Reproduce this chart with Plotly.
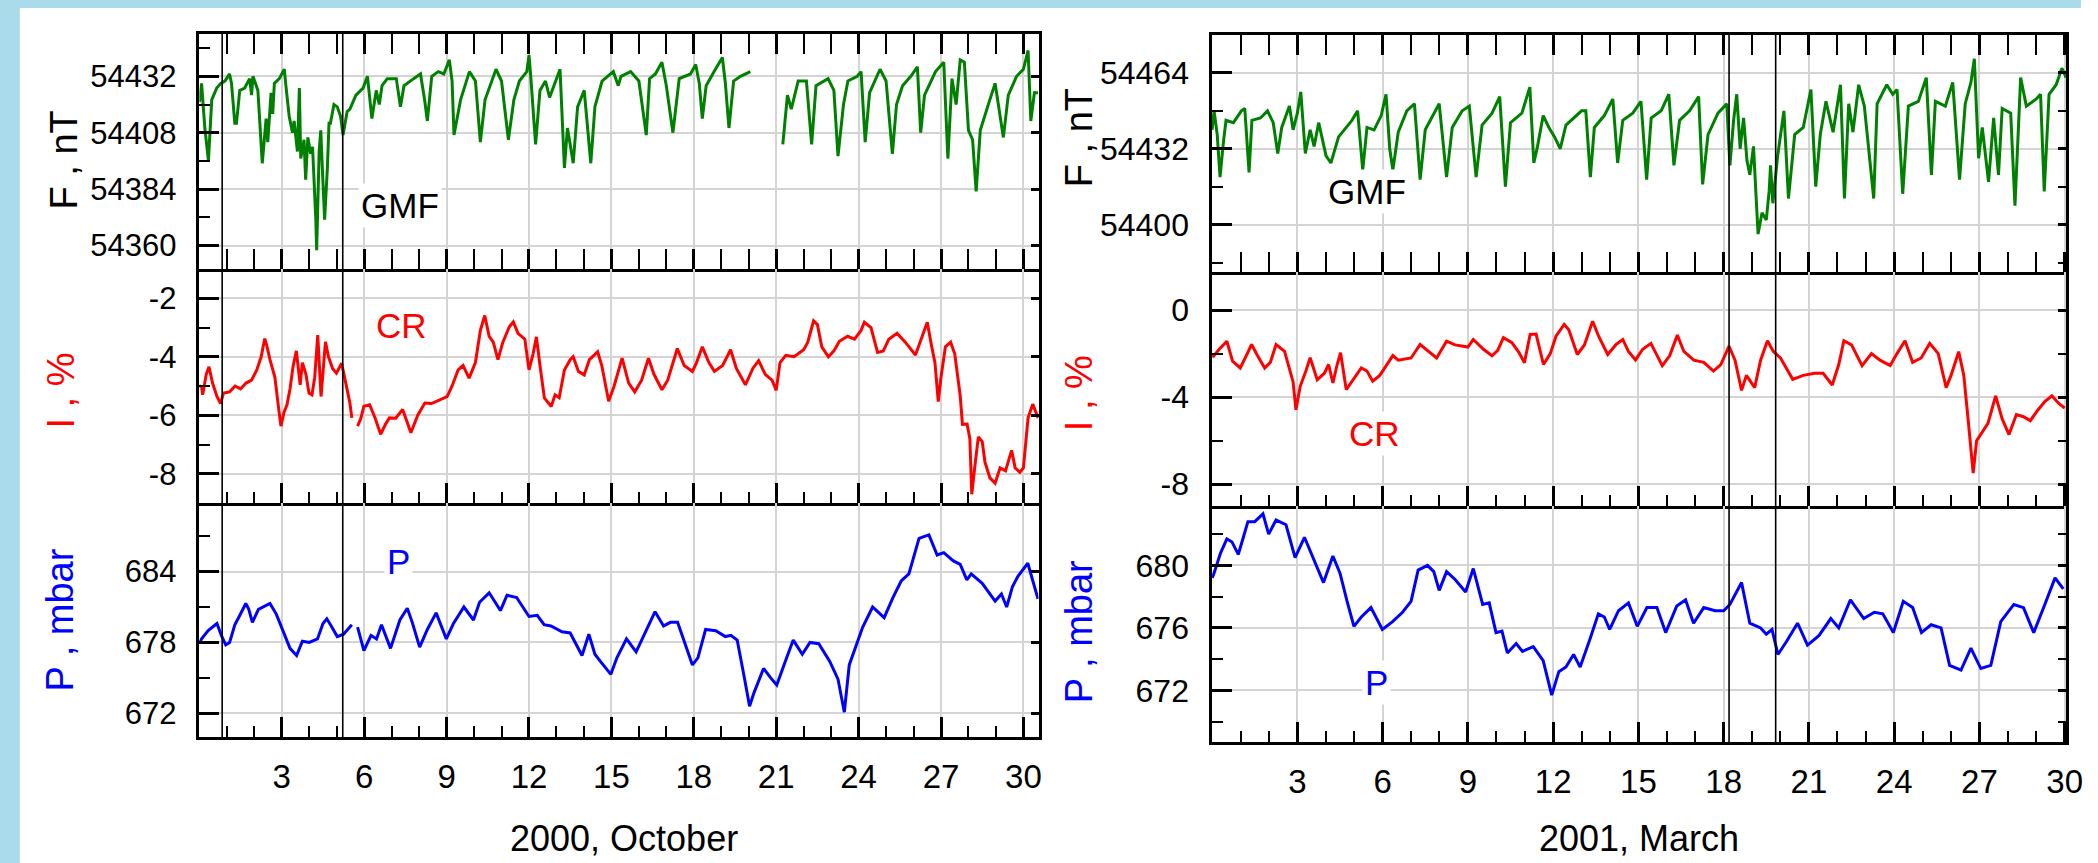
import plotly.graph_objects as go

# ---------------- DATA ----------------
# Day of month (fractional) and values. None marks a data gap.
oct_gmf_day = [0.00, 0.08, 0.20, 0.33, 0.45, 0.63, 0.78, 0.93, 1.10, 1.17, 1.29, 1.35, 1.47, 1.65, 1.83, 1.90, 1.95,
               2.13, 2.29, 2.43, 2.49, 2.61, 2.67, 2.73, 2.91, 3.09, 3.15, 3.27, 3.39, 3.45, 3.57, 3.64, 3.69, 3.81,
               3.87, 3.95, 4.05, 4.12, 4.24, 4.27, 4.36, 4.42, 4.48, 4.56, 4.66, 4.72, 4.77, 4.90, 5.02, 5.14, 5.23,
               5.38, 5.48, 5.70, 5.96, 6.12, 6.28, 6.44, 6.55, 6.65, 6.84, 7.00, 7.17, 7.32, 7.45, 7.80, 8.05, 8.20,
               8.30, 8.46, 8.70, 8.90, 9.10, 9.20, 9.27, 9.51, 9.83, 10.05, 10.23, 10.40, 10.80, 11.00, 11.25, 11.45,
               11.65, 11.92, 12.00, 12.07, 12.24, 12.40, 12.60, 12.75, 13.13, 13.29, 13.40, 13.50, 13.61, 13.77,
               14.01, 14.25, 14.40, 14.66, 15.07, 15.25, 15.35, 15.70, 16.00, 16.27, 16.39, 16.60, 16.84, 17.00,
               17.24, 17.47, 17.88, 18.07, 18.20, 18.31, 18.45, 18.74, 19.04, 19.15, 19.28, 19.45, 19.70, 20.06,
               None,
               21.24, 21.41, 21.55, 21.80, 22.10, 22.29, 22.45, 22.89, 23.10, 23.25, 23.45, 23.61, 23.95, 24.09,
               24.24, 24.40, 24.78, 25.00, 25.23, 25.38, 25.60, 25.90, 26.14, 26.26, 26.40, 26.80, 27.10, 27.25,
               27.40, 27.55, 27.70, 27.85, 28.00, 28.15, 28.28, 28.43, 28.75, 28.97, 29.27, 29.45, 29.75, 30.00,
               30.17, 30.27, 30.40, 30.53]
oct_gmf_nT = [54421, 54429, 54410, 54396, 54422, 54427, 54429, 54430, 54433, 54429, 54412, 54412, 54426, 54427, 54431,
              54424, 54432, 54426, 54395, 54414, 54404, 54425, 54416, 54429, 54431, 54435, 54428, 54415, 54408, 54413,
              54400, 54427, 54397, 54405, 54388, 54406, 54399, 54402, 54371, 54358, 54400, 54409, 54392, 54371, 54393,
              54412, 54412, 54420, 54419, 54415, 54407, 54417, 54418, 54424, 54427, 54432, 54414, 54426, 54420, 54428,
              54431, 54431, 54431, 54419, 54428, 54431, 54433, 54422, 54413, 54432, 54434, 54433, 54439, 54430, 54407,
              54422, 54434, 54430, 54404, 54422, 54435, 54430, 54405, 54422, 54430, 54434, 54441, 54431, 54403, 54426,
              54430, 54423, 54435, 54393, 54410, 54403, 54395, 54419, 54426, 54395, 54419, 54430, 54434, 54428, 54432,
              54434, 54430, 54407, 54431, 54433, 54438, 54428, 54408, 54431, 54433, 54437, 54429, 54414, 54428, 54434,
              54440, 54429, 54410, 54430, 54432, 54434,
              None,
              54403, 54424, 54418, 54430, 54430, 54403, 54428, 54431, 54426, 54398, 54420, 54430, 54432, 54434, 54404,
              54425, 54435, 54430, 54399, 54420, 54428, 54432, 54436, 54408, 54424, 54434, 54438, 54397, 54431, 54420,
              54439, 54438, 54409, 54405, 54383, 54409, 54421, 54429, 54406, 54424, 54432, 54435, 54443, 54413, 54425,
              54425]

oct_cr_day = [0.00, 0.08, 0.12, 0.25, 0.35, 0.48, 0.64, 0.77, 0.88, 1.10, 1.30, 1.50, 1.70, 1.90, 2.09, 2.25, 2.38,
              2.45, 2.57, 2.75, 2.89, 2.97, 3.08, 3.19, 3.30, 3.41, 3.53, 3.67, 3.75, 3.88, 3.99, 4.10, 4.20, 4.31,
              4.43, 4.59, 4.70, 4.85, 4.99, 5.18, 5.33, 5.48, 5.55,
              None,
              5.76, 5.88, 5.99, 6.20, 6.40, 6.60, 6.78, 6.92, 7.15, 7.40, 7.55, 7.70, 7.95, 8.21, 8.45, 8.70, 9.02,
              9.20, 9.42, 9.60, 9.82, 10.05, 10.23, 10.39, 10.55, 10.70, 10.87, 11.05, 11.28, 11.43, 11.60, 11.85,
              12.00, 12.15, 12.27, 12.40, 12.56, 12.81, 12.95, 13.10, 13.29, 13.50, 13.61, 13.80, 14.01, 14.20, 14.50,
              14.65, 14.90, 15.10, 15.39, 15.63, 15.85, 16.10, 16.35, 16.55, 16.84, 17.05, 17.40, 17.65, 17.95, 18.10,
              18.31, 18.55, 18.75, 19.05, 19.34, 19.55, 19.88, 20.15, 20.36, 20.60, 20.85, 21.00, 21.14, 21.35, 21.65,
              22.00, 22.15, 22.36, 22.50, 22.66, 22.90, 23.10, 23.30, 23.60, 23.85, 24.09, 24.21, 24.45, 24.69, 24.90,
              25.10, 25.40, 25.70, 26.07, 26.25, 26.50, 26.65, 26.78, 26.90, 27.00, 27.16, 27.35, 27.50, 27.70, 27.78,
              27.95, 28.05, 28.12, 28.25, 28.36, 28.50, 28.60, 28.78, 28.97, 29.15, 29.35, 29.57, 29.70, 29.87, 30.00,
              30.17, 30.34, 30.53]
oct_cr_pct = [-5.0, -5.02, -5.3, -4.6, -4.34, -4.9, -5.36, -5.6, -5.24, -5.2, -5.0, -5.1, -4.9, -4.8, -4.45, -4.0,
              -3.38, -3.6, -4.1, -4.7, -5.8, -6.37, -5.9, -5.64, -5.1, -4.34, -3.8, -4.96, -4.2, -4.6, -5.24, -5.3,
              -4.7, -3.26, -5.36, -3.49, -4.0, -4.4, -4.56, -4.22, -4.9, -5.58, -6.09,
              None,
              -6.37, -6.1, -5.69, -5.64, -6.1, -6.65, -6.3, -6.09, -6.1, -5.8, -6.2, -6.6, -6.0, -5.58, -5.6, -5.5,
              -5.36, -5.0, -4.45, -4.3, -4.73, -4.2, -3.1, -2.59, -3.3, -3.5, -4.1, -3.5, -2.98, -2.81, -3.2, -3.4,
              -4.45, -3.9, -3.32, -4.3, -5.41, -5.7, -5.3, -5.4, -4.45, -4.1, -4.0, -4.5, -4.62, -4.1, -3.83, -4.3,
              -5.52, -5.0, -4.05, -4.9, -5.2, -4.8, -4.05, -4.6, -5.13, -4.8, -3.72, -4.3, -4.5, -4.2, -3.66, -4.2,
              -4.5, -4.3, -3.76, -4.4, -4.96, -4.4, -4.13, -4.6, -4.8, -5.15, -4.2, -3.95, -4.0, -3.76, -3.5, -2.77,
              -2.9, -3.66, -4.0, -3.8, -3.47, -3.3, -3.4, -3.1, -2.82, -3.0, -3.85, -3.8, -3.4, -3.2, -3.5, -3.94,
              -3.5, -2.82, -3.6, -4.2, -5.53, -4.7, -3.66, -3.5, -3.9, -5.34, -6.31, -6.3, -6.8, -8.7, -7.6, -6.74,
              -6.9, -7.6, -8.14, -8.32, -7.8, -7.9, -7.2, -7.8, -7.95, -7.8, -6.09, -5.62, -6.09]

oct_p_day = [0.00, 0.08, 0.32, 0.64, 0.80, 0.96, 1.10, 1.29, 1.45, 1.69, 1.80, 1.93, 2.15, 2.57, 2.80, 3.06, 3.30,
             3.54, 3.75, 4.00, 4.30, 4.50, 4.64, 4.80, 5.02, 5.25, 5.55,
             None,
             5.76, 5.99, 6.25, 6.45, 6.63, 6.96, 7.30, 7.57, 7.75, 8.02, 8.30, 8.62, 8.99, 9.25, 9.63, 9.98, 10.20,
             10.55, 10.96, 11.20, 11.55, 12.00, 12.30, 12.55, 12.80, 13.20, 13.50, 13.70, 13.93, 14.18, 14.40, 14.60,
             14.98, 15.20, 15.55, 15.90, 16.25, 16.59, 16.90, 17.15, 17.41, 17.69, 17.95, 18.15, 18.43, 18.80, 19.15,
             19.35, 19.58, 19.85, 20.03, 20.20, 20.54, 20.80, 21.02, 21.30, 21.62, 21.95, 22.23, 22.55, 22.95, 23.25,
             23.48, 23.66, 23.90, 24.15, 24.51, 24.93, 25.25, 25.55, 25.83, 26.05, 26.20, 26.56, 26.86, 27.10, 27.45,
             27.70, 27.94, 28.10, 28.50, 28.97, 29.20, 29.39, 29.60, 29.80, 30.16, 30.53]
oct_p_mbar = [678.0, 678.3, 679.0, 679.6, 678.6, 677.8, 678.0, 679.5, 680.2, 681.3, 680.8, 679.7, 680.8, 681.3, 680.4,
              678.9, 677.5, 676.9, 678.1, 678.0, 678.3, 679.6, 680.0, 679.4, 678.5, 678.7, 679.5,
              None,
              679.3, 677.3, 678.6, 678.3, 679.5, 677.5, 679.9, 680.9, 679.7, 677.6, 679.1, 680.5, 678.3, 679.6,
              681.0, 679.9, 681.4, 682.2, 680.7, 682.0, 681.8, 680.2, 680.3, 679.5, 679.4, 678.9, 678.8, 677.9,
              676.9, 678.7, 677.0, 676.4, 675.3, 676.7, 678.3, 677.2, 679.0, 680.6, 679.4, 679.7, 679.7, 677.8,
              676.1, 676.7, 679.1, 679.0, 678.5, 678.6, 678.2, 674.9, 672.6, 673.8, 675.8, 675.0, 674.4, 676.2,
              678.2, 677.0, 678.0, 677.9, 676.4, 674.9, 672.1, 676.1, 677.6, 679.3, 681.0, 680.1, 681.8, 683.2,
              683.8, 685.5, 686.8, 687.1, 685.4, 685.6, 684.9, 684.6, 683.3, 683.8, 683.0, 681.5, 682.1, 681.0,
              682.7, 683.6, 684.7, 681.7]

mar_gmf_day = [0.00, 0.07, 0.18, 0.28, 0.40, 0.49, 0.75, 1.03, 1.15, 1.30, 1.40, 1.70, 1.95, 2.15, 2.31, 2.45, 2.72,
               2.85, 3.00, 3.12, 3.28, 3.45, 3.59, 3.75, 4.01, 4.18, 4.45, 4.70, 4.92, 5.12, 5.30, 5.45, 5.70, 5.95,
               6.12, 6.25, 6.36, 6.55, 6.85, 7.12, 7.32, 7.50, 7.80, 7.99, 8.25, 8.45, 8.80, 9.05, 9.29, 9.50, 9.85,
               10.12, 10.32, 10.50, 10.90, 11.18, 11.32, 11.45, 11.65, 11.85, 12.05, 12.25, 12.45, 12.80, 13.00,
               13.15, 13.31, 13.45, 13.80, 14.10, 14.27, 14.45, 14.80, 15.09, 15.29, 15.45, 15.80, 16.07, 16.25,
               16.45, 16.80, 17.12, 17.26, 17.45, 17.80, 18.11, 18.22, 18.35, 18.46, 18.58, 18.70, 18.82, 18.92,
               19.05, 19.21, 19.35, 19.50, 19.60, 19.65, 19.73, 19.90, 20.12, 20.28, 20.50, 20.80, 21.07, 21.24,
               21.40, 21.60, 21.85, 22.11, 22.25, 22.40, 22.55, 22.75, 22.95, 23.28, 23.40, 23.74, 23.95, 24.10,
               24.30, 24.50, 24.85, 25.13, 25.31, 25.45, 25.80, 26.06, 26.30, 26.50, 26.70, 26.82, 26.97, 27.10,
               27.32, 27.50, 27.67, 27.80, 28.10, 28.25, 28.45, 28.65, 29.00, 29.15, 29.28, 29.45, 29.70, 29.90,
               30.05]
mar_gmf_nT = [54440, 54448, 54438, 54420, 54435, 54444, 54443, 54448, 54449, 54422, 54444, 54445, 54448, 54443, 54430,
              54441, 54450, 54440, 54447, 54456, 54430, 54440, 54433, 54443, 54429, 54426, 54437, 54441, 54444, 54448,
              54423, 54441, 54440, 54446, 54455, 54432, 54423, 54439, 54448, 54451, 54419, 54440, 54447, 54451, 54420,
              54441, 54448, 54450, 54420, 54442, 54447, 54454, 54416, 54443, 54447, 54458, 54426, 54433, 54446, 54441,
              54437, 54432, 54442, 54446, 54448, 54448, 54420, 54441, 54446, 54453, 54426, 54444, 54447, 54452, 54419,
              54445, 54448, 54455, 54425, 54444, 54448, 54454, 54417, 54438, 54447, 54451, 54425, 54444, 54455, 54432,
              54445, 54427, 54421, 54433, 54396, 54405, 54402, 54414, 54425, 54409, 54429, 54448, 54411, 54438, 54441,
              54457, 54416, 54438, 54452, 54439, 54459, 54411, 54451, 54439, 54459, 54450, 54411, 54451, 54459, 54455,
              54457, 54413, 54450, 54452, 54462, 54421, 54452, 54450, 54460, 54419, 54451, 54460, 54470, 54428, 54441,
              54418, 54445, 54421, 54449, 54447, 54408, 54462, 54450, 54453, 54455, 54414, 54455, 54459, 54466, 54462]

mar_cr_day = [0.00, 0.05, 0.25, 0.52, 0.72, 0.99, 1.20, 1.39, 1.60, 1.85, 2.05, 2.25, 2.55, 2.70, 2.85, 2.95, 3.10,
              3.30, 3.45, 3.70, 3.95, 4.10, 4.25, 4.40, 4.52, 4.72, 4.95, 5.25, 5.45, 5.65, 5.90, 6.12, 6.36, 6.55,
              7.00, 7.32, 7.60, 7.90, 8.25, 8.55, 9.00, 9.19, 9.55, 9.85, 10.05, 10.25, 10.55, 10.80, 10.99, 11.19,
              11.40, 11.66, 11.90, 12.10, 12.39, 12.55, 12.85, 13.10, 13.39, 13.60, 13.92, 14.20, 14.45, 14.65,
              14.90, 15.15, 15.44, 15.84, 16.10, 16.37, 16.60, 16.95, 17.30, 17.64, 17.90, 18.19, 18.40, 18.63,
              18.80, 19.09, 19.30, 19.54, 19.75, 20.00, 20.43, 20.80, 21.20, 21.50, 21.82, 22.05, 22.23, 22.50,
              22.87, 23.20, 23.50, 23.86, 24.10, 24.38, 24.65, 24.95, 25.25, 25.55, 25.83, 26.00, 26.27, 26.45,
              26.60, 26.78, 26.90, 27.10, 27.30, 27.57, 27.80, 28.04, 28.30, 28.55, 28.79, 29.05, 29.30, 29.55,
              29.80, 30.00]
mar_cr_pct = [-2.1, -2.12, -1.8, -1.43, -2.35, -2.66, -2.1, -1.58, -2.1, -2.66, -2.4, -1.58, -1.9, -2.6, -3.3, -4.58,
              -3.5, -2.8, -2.19, -3.2, -2.9, -2.5, -3.35, -2.5, -1.96, -3.65, -3.2, -2.66, -2.8, -3.27, -3.0, -2.58,
              -2.09, -2.3, -2.2, -1.58, -1.9, -2.2, -1.43, -1.6, -1.7, -1.35, -1.8, -2.1, -1.85, -1.27, -1.5, -1.95,
              -2.42, -1.12, -1.1, -2.5, -2.0, -1.2, -0.66, -0.9, -2.04, -1.6, -0.51, -1.2, -2.04, -1.6, -1.35, -1.9,
              -2.29, -1.8, -1.53, -2.55, -2.1, -1.15, -1.9, -2.3, -2.4, -2.8, -2.5, -1.66, -2.3, -3.69, -3.0, -3.56,
              -2.3, -1.41, -1.9, -2.2, -3.18, -3.0, -2.9, -2.9, -3.44, -2.5, -1.41, -1.6, -2.55, -2.0, -2.3, -2.55,
              -2.0, -1.41, -2.4, -2.2, -1.53, -2.0, -3.56, -3.0, -1.91, -3.0, -5.0, -7.49, -6.0, -5.6, -5.2, -3.94,
              -5.0, -5.72, -4.8, -4.9, -5.08, -4.6, -4.2, -3.94, -4.3, -4.5]

mar_p_day = [0.00, 0.05, 0.30, 0.52, 0.70, 0.92, 1.10, 1.26, 1.50, 1.79, 1.99, 2.25, 2.60, 2.92, 3.25, 3.55, 3.92,
             4.25, 4.50, 4.75, 4.99, 5.25, 5.59, 5.99, 6.35, 6.70, 7.00, 7.25, 7.58, 7.80, 7.99, 8.25, 8.55, 8.92,
             9.19, 9.52, 9.75, 9.99, 10.20, 10.39, 10.70, 10.92, 11.30, 11.65, 11.95, 12.20, 12.45, 12.72, 12.95,
             13.30, 13.59, 13.80, 13.99, 14.30, 14.65, 14.96, 15.30, 15.65, 15.96, 16.35, 16.66, 16.94, 17.30,
             17.70, 18.00, 18.22, 18.63, 18.92, 19.30, 19.50, 19.70, 19.91, 20.20, 20.60, 20.95, 21.35, 21.77,
             22.05, 22.46, 22.93, 23.30, 23.60, 23.97, 24.32, 24.65, 24.96, 25.30, 25.65, 25.95, 26.35, 26.70,
             27.05, 27.40, 27.75, 28.21, 28.55, 28.91, 29.30, 29.66, 29.95]
mar_p_mbar = [679.2, 679.4, 680.8, 681.7, 681.5, 680.7, 681.8, 682.8, 682.8, 683.3, 682.0, 682.9, 682.6, 680.5, 681.8,
              680.5, 678.9, 680.6, 679.5, 677.7, 676.1, 676.7, 677.3, 675.9, 676.4, 677.0, 677.7, 679.7, 680.0, 679.6,
              678.4, 679.6, 679.1, 678.3, 679.8, 677.5, 677.6, 675.7, 675.8, 674.4, 675.0, 674.5, 674.8, 673.9, 671.7,
              673.2, 673.5, 674.3, 673.5, 675.3, 676.9, 676.7, 675.9, 677.1, 677.6, 676.1, 677.3, 677.3, 675.7, 677.4,
              677.8, 676.3, 677.3, 677.1, 677.1, 677.5, 678.9, 676.3, 676.0, 675.6, 675.9, 674.3, 675.1, 676.3, 674.9,
              675.5, 676.6, 676.0, 677.8, 676.6, 677.0, 676.9, 675.7, 677.7, 677.3, 675.7, 676.2, 676.0, 673.6, 673.3,
              674.7, 673.4, 673.6, 676.4, 677.5, 677.3, 675.7, 677.5, 679.2, 678.5]

# vertical event markers (day of month)
oct_event_days = [0.83, 5.22]
mar_event_days = [18.19, 19.83]

# axis ticks / labels
day_ticks = [3, 6, 9, 12, 15, 18, 21, 24, 27, 30]
oct_f_ticks = [54360, 54384, 54408, 54432]
oct_i_ticks = [-8, -6, -4, -2]
oct_p_ticks = [672, 678, 684]
mar_f_ticks = [54400, 54432, 54464]
mar_i_ticks = [-8, -4, 0]
mar_p_ticks = [672, 676, 680]

# ---------------- STYLE / LAYOUT ----------------
W, H = 2098, 863
FONT = "Liberation Sans, Arial, sans-serif"
GREEN, RED, BLUE = "#008000", "#ff0000", "#0000ff"
GRID = "#d4d4d4"


def fx(p):
    return p / W


def fy(p):
    return 1 - p / H


charts = [
    dict(xpx=(201, 1047), xrange=[0, 30.55],
         rows=[(34, 269), (269, 503), (503, 737)],
         yranges=[[54350, 54450], [-9, -1], [670, 689.8]],
         yticks=[oct_f_ticks, oct_i_ticks, oct_p_ticks],
         minor=[12, 1, 3], minor0=[54360, -8, 672],
         right_minor=False, yfont=31),
    dict(xpx=(1222, 2083), xrange=[0, 30.05],
         rows=[(35, 272), (272, 506), (506, 742)],
         yranges=[[54380, 54480], [-9, 1.75], [668.7, 683.8]],
         yticks=[mar_f_ticks, mar_i_ticks, mar_p_ticks],
         minor=[16, 2, 2], minor0=[54400, 0, 672],
         right_minor=True, yfont=32),
]

series = [
    [(oct_gmf_day, oct_gmf_nT, GREEN), (oct_cr_day, oct_cr_pct, RED), (oct_p_day, oct_p_mbar, BLUE)],
    [(mar_gmf_day, mar_gmf_nT, GREEN), (mar_cr_day, mar_cr_pct, RED), (mar_p_day, mar_p_mbar, BLUE)],
]

fig = go.Figure()
layout = dict(
    width=W, height=H,
    margin=dict(l=0, r=0, t=0, b=0),
    paper_bgcolor="white", plot_bgcolor="white",
    showlegend=False,
    font=dict(family=FONT, color="black"),
)

n = 0
for ci, ch in enumerate(charts):
    xd = [fx(ch["xpx"][0]), fx(ch["xpx"][1])]
    for ri in range(3):
        n += 1
        top, bot = ch["rows"][ri]
        yd = [fy(bot), fy(top)]
        xa = "xaxis" if n == 1 else f"xaxis{n}"
        ya = "yaxis" if n == 1 else f"yaxis{n}"
        xs = "x" if n == 1 else f"x{n}"
        ys = "y" if n == 1 else f"y{n}"
        layout[xa] = dict(
            domain=xd, range=ch["xrange"], anchor=ys,
            showline=True, linecolor="black", linewidth=2.5,
            mirror="allticks" if ri == 0 else False,
            ticks="inside", ticklen=20, tickwidth=2.5, tickcolor="black",
            tickmode="array", tickvals=day_ticks, ticktext=[str(d) for d in day_ticks],
            showticklabels=(ri == 2), tickfont=dict(size=33, color="black", family=FONT),
            ticklabelstandoff=9,
            showgrid=True, gridcolor=GRID, gridwidth=1.5, zeroline=False,
            minor=dict(ticks="inside", ticklen=11, tickwidth=2, tickcolor="black",
                       tickmode="linear", tick0=0, dtick=1, showgrid=False),
            fixedrange=True,
        )
        layout[ya] = dict(
            domain=yd, range=ch["yranges"][ri], anchor=xs,
            showline=True, linecolor="black", linewidth=2.5, mirror=True,
            ticks="inside", ticklen=20, tickwidth=2.5, tickcolor="black",
            tickmode="array", tickvals=ch["yticks"][ri], ticktext=[str(v) for v in ch["yticks"][ri]],
            tickfont=dict(size=ch["yfont"], color="black", family=FONT),
            ticklabelstandoff=14,
            showgrid=True, gridcolor=GRID, gridwidth=1.5, zeroline=False,
            minor=dict(ticks="inside", ticklen=11, tickwidth=2, tickcolor="black",
                       tickmode="linear", tick0=ch["minor0"][ri], dtick=ch["minor"][ri], showgrid=False),
            fixedrange=True,
        )
        # right-side short ticks
        on = n + 6
        layout[f"yaxis{on}"] = dict(
            overlaying=ys, side="right", anchor=xs, range=ch["yranges"][ri],
            ticks="inside", ticklen=8, tickwidth=2.5, tickcolor="black",
            tickmode="array", tickvals=ch["yticks"][ri], showticklabels=False,
            showline=False, showgrid=False, zeroline=False, fixedrange=True,
            minor=(dict(ticks="inside", ticklen=8, tickwidth=2, tickcolor="black",
                        tickmode="linear", tick0=ch["minor0"][ri], dtick=ch["minor"][ri], showgrid=False)
                   if ch["right_minor"] else dict(ticks="")),
        )
        dx, dy, col = series[ci][ri]
        fig.add_trace(go.Scatter(x=dx, y=dy, mode="lines", line=dict(color=col, width=3),
                                 xaxis=xs, yaxis=ys, connectgaps=False, hoverinfo="skip"))
        fig.add_trace(go.Scatter(x=[None], y=[None], mode="lines", xaxis=xs, yaxis=f"y{on}",
                                 hoverinfo="skip"))

shapes = [
    dict(type="rect", xref="paper", yref="paper", x0=0, x1=fx(20), y0=0, y1=1,
         fillcolor="#a9dbea", line=dict(width=0), layer="below"),
    dict(type="rect", xref="paper", yref="paper", x0=0, x1=1, y0=fy(8), y1=1,
         fillcolor="#a9dbea", line=dict(width=0), layer="below"),
]
for d in oct_event_days:
    shapes.append(dict(type="line", xref="x", yref="paper", x0=d, x1=d,
                       y0=fy(charts[0]["rows"][2][1]), y1=fy(charts[0]["rows"][0][0]),
                       line=dict(color="black", width=1.6)))
for d in mar_event_days:
    shapes.append(dict(type="line", xref="x4", yref="paper", x0=d, x1=d,
                       y0=fy(charts[1]["rows"][2][1]), y1=fy(charts[1]["rows"][0][0]),
                       line=dict(color="black", width=1.6)))
layout["shapes"] = shapes

ann = []
# axis titles
titles = [
    ("F , nT", "black", 65, 160), ("I , %", RED, 62, 390), ("P , mbar", BLUE, 60, 620),
    ("F , nT", "black", 1088, 138), ("I , %", RED, 1088, 393), ("P , mbar", BLUE, 1088, 632),
]
for t, c, x, y in titles:
    ann.append(dict(text=t, x=fx(x), y=fy(y), xref="paper", yref="paper", showarrow=False,
                    textangle=-90, font=dict(size=38, color=c, family=FONT),
                    xanchor="center", yanchor="middle"))
ann.append(dict(text="2000, October", x=fx(629), y=fy(838), xref="paper", yref="paper", showarrow=False,
                font=dict(size=36, color="black", family=FONT), xanchor="center", yanchor="middle"))
ann.append(dict(text="2001, March", x=fx(1652), y=fy(838), xref="paper", yref="paper", showarrow=False,
                font=dict(size=36, color="black", family=FONT), xanchor="center", yanchor="middle"))
# in-plot labels (data coordinates)
labels = [
    ("GMF", "black", "x", "y", 7.29, 54377), ("CR", RED, "x2", "y2", 7.36, -2.93), ("P", BLUE, "x3", "y3", 7.26, 684.85),
    ("GMF", "black", "x4", "y4", 5.44, 54413.9), ("CR", RED, "x5", "y5", 5.71, -5.68), ("P", BLUE, "x6", "y6", 5.78, 672.5),
]
for t, c, xr, yr, x, y in labels:
    ann.append(dict(text=t, x=x, y=y, xref=xr, yref=yr, showarrow=False, bgcolor="white", borderpad=2,
                    font=dict(size=35, color=c, family=FONT), xanchor="center", yanchor="middle"))
layout["annotations"] = ann

fig.update_layout(**layout)
# remove the browser's default 8px body margin so the figure fills the window exactly
fig.write_html("out.html", config={"displayModeBar": False},
               post_script="document.body.style.margin='0';document.body.style.overflow='hidden';")
